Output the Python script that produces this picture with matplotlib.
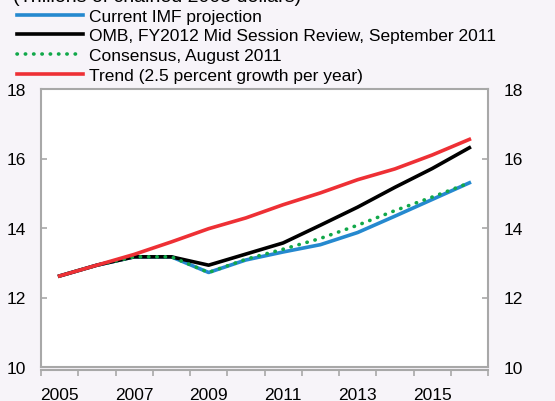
import matplotlib
matplotlib.use("Agg")
import matplotlib.pyplot as plt

# Datos (billones de dolares encadenados 2005)
years = [2005, 2006, 2007, 2008, 2009, 2010, 2011, 2012, 2013, 2014, 2015, 2016]
imf = [12.62, 12.93, 13.17, 13.17, 12.72, 13.08, 13.31, 13.52, 13.87, 14.34, 14.82, 15.30]
omb = [12.62, 12.93, 13.17, 13.17, 12.93, 13.25, 13.57, 14.08, 14.60, 15.17, 15.71, 16.31]
consensus = [12.62, 12.93, 13.17, 13.17, 12.72, 13.10, 13.39, 13.70, 14.08, 14.50, 14.89, 15.30]
trend = [12.62, 12.93, 13.24, 13.60, 13.98, 14.29, 14.67, 15.01, 15.39, 15.70, 16.10, 16.55]

series_labels = ["Current IMF projection",
                 "OMB, FY2012 Mid Session Review, September 2011",
                 "Consensus, August 2011",
                 "Trend (2.5 percent growth per year)"]
y_ticks = [10, 12, 14, 16, 18]

plt.rcParams['font.family'] = ['Liberation Sans', 'DejaVu Sans']
plt.rcParams['font.size'] = 12

bg = '#f7f4f9'
gris = '#a8a8a8'

fig = plt.figure(figsize=(5.55, 4.02), dpi=100, facecolor=bg)
ax = fig.add_axes([41 / 555, 1 - 368 / 402, (488 - 41) / 555, (368 - 90) / 402])
ax.set_facecolor('white')

x = list(range(len(years)))
ax.plot(x, imf, color='#2589cf', lw=2.6, label=series_labels[0])
ax.plot(x, omb, color='black', lw=2.6, label=series_labels[1])
ax.plot(x, consensus, color='#11a84a', lw=2.6, linestyle=(0, (0.1, 2.2)),
        dash_capstyle='round', label=series_labels[2])
ax.plot(x, trend, color='#ee3035', lw=2.6, label=series_labels[3])

ax.set_xlim(-0.5, len(years) - 0.5)
ax.set_ylim(10, 18)

# Eje x por categorias: marcas entre anos, etiquetas en anos impares
ax.set_xticks([i - 0.5 for i in range(len(years) + 1)])
ax.set_xticklabels([])
ax.set_xticks(x, minor=True)
ax.set_xticklabels([str(y) if y % 2 == 1 else '' for y in years], minor=True)
ax.tick_params(axis='x', which='major', direction='out', length=4, width=1.2, color=gris)
ax.tick_params(axis='x', which='minor', length=0, pad=12, labelsize=12.5)

ax.set_yticks(y_ticks)
ax.tick_params(axis='y', direction='in', length=4, width=1.2, color=gris,
               left=True, right=True, labelleft=True, labelright=True, pad=11,
               labelsize=12.5)

for s in ['left', 'right', 'top', 'bottom']:
    ax.spines[s].set_color(gris)
    ax.spines[s].set_linewidth(1.5)
ax.spines['bottom'].set_position(('outward', 2.5))
ax.plot([0, 1], [0, 0], transform=ax.transAxes, color=gris, lw=1.5, clip_on=False)

fig.legend(loc='upper left', bbox_to_anchor=(17 / 555, 1 - 9.5 / 402),
           frameon=False, handlelength=3.8, handletextpad=0.35,
           labelspacing=0.27, borderpad=0, borderaxespad=0, fontsize=12.5)

# Titulo cortado en la parte superior
fig.text(13 / 555, 1 - 1.5 / 402, "(Trillions of chained 2005 dollars)",
         fontsize=14, va='baseline', ha='left')

fig.savefig('out.png', dpi=100, facecolor=bg)
